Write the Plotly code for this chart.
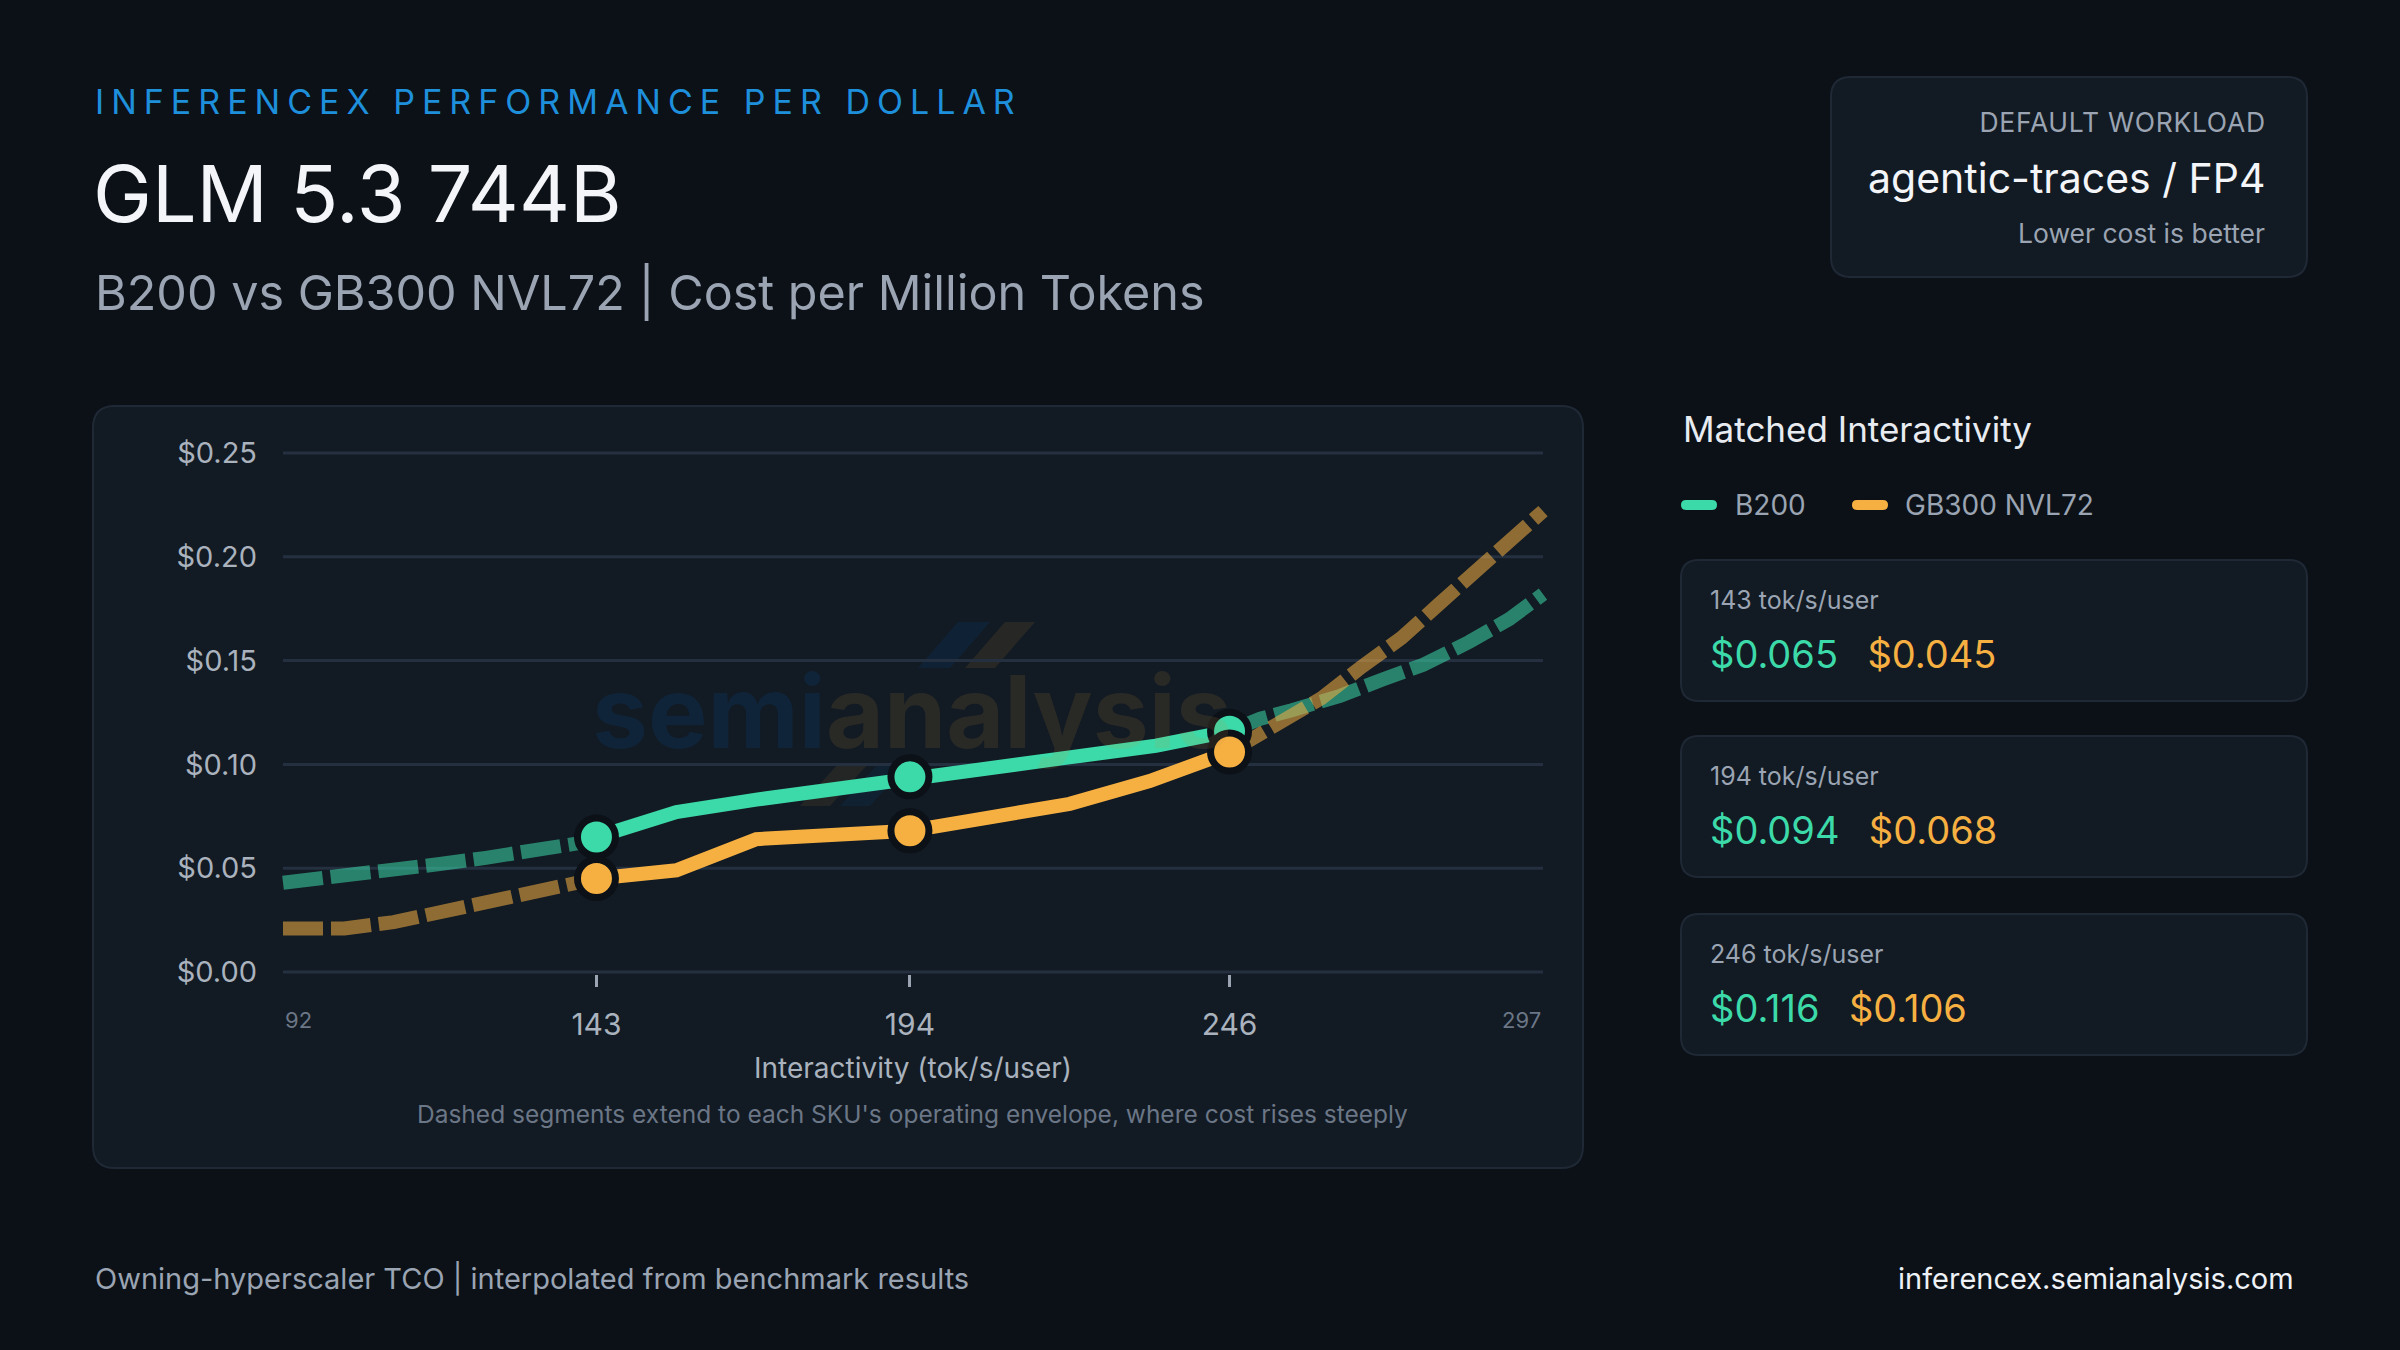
import plotly.graph_objects as go

# ---------------- data ----------------
matched_x = [143, 194, 246]
b200_matched = [0.065, 0.094, 0.116]
gb300_matched = [0.045, 0.068, 0.106]

b200_low_x = [92, 102, 110, 117.5, 125, 133, 140, 143]
b200_low_y = [0.043, 0.046, 0.049, 0.052, 0.055, 0.058, 0.062, 0.065]
b200_mid_x = [143, 156, 169, 182, 194, 206, 219, 234, 246]
b200_mid_y = [0.065, 0.077, 0.083, 0.0885, 0.094, 0.099, 0.103, 0.109, 0.116]
b200_high_x = [246, 251, 256, 264, 271, 277.5, 285, 291.5, 297]
b200_high_y = [0.116, 0.122, 0.126, 0.133, 0.141, 0.148, 0.159, 0.170, 0.182]

gb300_low_x = [92, 102, 110, 117.5, 125, 133, 140, 143]
gb300_low_y = [0.021, 0.021, 0.024, 0.029, 0.034, 0.039, 0.043, 0.045]
gb300_mid_x = [143, 156, 169, 182, 194, 208, 220, 233, 246]
gb300_mid_y = [0.045, 0.049, 0.064, 0.066, 0.068, 0.075, 0.081, 0.092, 0.106]
gb300_high_x = [246, 252.5, 261, 267.5, 274, 280, 286, 291.5, 297]
gb300_high_y = [0.106, 0.117, 0.132, 0.147, 0.161, 0.177, 0.193, 0.209, 0.222]

y_ticks = [0, 0.05, 0.10, 0.15, 0.20, 0.25]
y_tick_labels = ["$0.00", "$0.05", "$0.10", "$0.15", "$0.20", "$0.25"]
x_ends = [92, 297]
series_names = ["B200", "GB300 NVL72"]

# ---------------- style ----------------
FONT = "Inter"
BG = "#0c1118"
CARD = "#121a23"
CARD_LINE = "#1f2935"
GRID = "#243040"
GREEN = "#3cd9a9"
ORANGE = "#f6b042"
MUTED = "#9aa4b2"
DIM = "#6b7686"
WHITE = "#f3f5f8"

W, H = 2400, 1350
PL, PR, PT, PB = 258, 1568, 451, 974
X0PX, X1PX = 283, 1543          # pixel positions of x=92 and x=297
Y0PX, Y1PX = 972, 453           # pixel positions of y=0 and y=0.25
xs = (x_ends[1] - x_ends[0]) / (X1PX - X0PX)
ys = 0.25 / (Y0PX - Y1PX)
x_range = [x_ends[0] - (X0PX - PL) * xs, x_ends[1] + (PR - X1PX) * xs]
y_range = [-(PB - Y0PX) * ys, 0.25 + (Y1PX - PT) * ys]


def fx(px):
    return (px - PL) / (PR - PL)


def fy(py):
    return (PB - py) / (PB - PT)


def rrect(x0, y0, x1, y1, r):
    X0, X1, Y0, Y1 = fx(x0), fx(x1), fy(y0), fy(y1)
    rx, ry = r / (PR - PL), r / (PB - PT)
    return (f"M {X0+rx},{Y0} L {X1-rx},{Y0} Q {X1},{Y0} {X1},{Y0-ry} "
            f"L {X1},{Y1+ry} Q {X1},{Y1} {X1-rx},{Y1} L {X0+rx},{Y1} "
            f"Q {X0},{Y1} {X0},{Y1+ry} L {X0},{Y0-ry} Q {X0},{Y0} {X0+rx},{Y0} Z")


def poly(pts):
    return "M " + " L ".join(f"{fx(a)},{fy(b)}" for a, b in pts) + " Z"


shapes = []
annotations = []


def card(x0, y0, x1, y1, r, fill=CARD, line=CARD_LINE):
    shapes.append(dict(type="path", path=rrect(x0, y0, x1, y1, r), xref="paper", yref="paper",
                       fillcolor=fill, line=dict(color=line, width=2), layer="below"))


def text(x, y, s, size, color, xanchor="left", weight=400):
    annotations.append(dict(x=fx(x), y=fy(y), xref="paper", yref="paper", text=s,
                            showarrow=False, xanchor=xanchor, yanchor="middle",
                            font=dict(family=FONT, size=size, color=color, weight=weight)))


# cards
card(93, 406, 1583, 1168, 22)
card(1831, 77, 2307, 277, 20)
card_y = [(560, 701), (736, 877), (914, 1055)]
for (a, b) in card_y:
    card(1681, a, 2307, b, 18)

# watermark slashes (decorative)
for pts, col in [
    ([(918, 668), (950, 668), (990, 622), (958, 622)], "rgba(0,100,190,0.12)"),
    ([(965, 668), (995, 668), (1035, 622), (1005, 622)], "rgba(200,150,60,0.12)"),
    ([(800, 806), (830, 806), (868, 764), (838, 764)], "rgba(200,150,60,0.10)"),
    ([(840, 806), (870, 806), (908, 764), (878, 764)], "rgba(0,100,190,0.10)"),
]:
    shapes.append(dict(type="path", path=poly(pts), xref="paper", yref="paper",
                       fillcolor=col, line=dict(width=0), layer="below"))

# gridlines from tick values
for v in y_ticks:
    shapes.append(dict(type="line", xref="x", yref="y", x0=x_ends[0], x1=x_ends[1], y0=v, y1=v,
                       line=dict(color=GRID, width=3), layer="below"))

# watermark text
annotations.append(dict(x=fx(912), y=fy(711), xref="paper", yref="paper", showarrow=False,
                        xanchor="center", yanchor="middle",
                        text="<span style='color:rgba(0,100,190,0.14)'>semi</span>"
                             "<span style='color:rgba(200,150,60,0.13)'>analysis</span>",
                        font=dict(family=FONT, size=100, weight=700)))

fig = go.Figure()

dash = "40px,8px"
fig.add_trace(go.Scatter(x=b200_low_x, y=b200_low_y, mode="lines", opacity=0.55,
                         line=dict(color=GREEN, width=14, dash=dash), hoverinfo="skip"))
fig.add_trace(go.Scatter(x=gb300_low_x, y=gb300_low_y, mode="lines", opacity=0.55,
                         line=dict(color=ORANGE, width=14, dash=dash), hoverinfo="skip"))
fig.add_trace(go.Scatter(x=b200_high_x, y=b200_high_y, mode="lines", opacity=0.55,
                         line=dict(color=GREEN, width=14, dash=dash), hoverinfo="skip"))
fig.add_trace(go.Scatter(x=gb300_high_x, y=gb300_high_y, mode="lines", opacity=0.55,
                         line=dict(color=ORANGE, width=14, dash=dash), hoverinfo="skip"))
fig.add_trace(go.Scatter(x=b200_mid_x, y=b200_mid_y, mode="lines", name=series_names[0],
                         line=dict(color=GREEN, width=14)))
fig.add_trace(go.Scatter(x=gb300_mid_x, y=gb300_mid_y, mode="lines", name=series_names[1],
                         line=dict(color=ORANGE, width=14)))
fig.add_trace(go.Scatter(x=matched_x, y=b200_matched, mode="markers",
                         marker=dict(color=GREEN, size=38, line=dict(color=BG, width=7))))
fig.add_trace(go.Scatter(x=matched_x, y=gb300_matched, mode="markers",
                         marker=dict(color=ORANGE, size=38, line=dict(color=BG, width=7))))

# header texts
text(93, 101, "INFERENCEX PERFORMANCE PER DOLLAR", 34, "#1e8fdb")
text(91, 193, "GLM 5.3 744B", 79, WHITE, weight=400)
text(93, 292, "B200 vs GB300 NVL72 | Cost per Million Tokens", 48.5, MUTED)

text(2267, 122, "DEFAULT WORKLOAD", 26.5, MUTED, xanchor="right")
text(2267, 178, "agentic-traces / FP4", 41, WHITE, xanchor="right")
text(2267, 233, "Lower cost is better", 26.5, MUTED, xanchor="right")

# right panel
text(1681, 429, "Matched Interactivity", 35, "#e8ecf1")
for (sx, lx, col, name) in [(1681, 1733, GREEN, series_names[0]), (1852, 1903, ORANGE, series_names[1])]:
    shapes.append(dict(type="path", path=rrect(sx, 500, sx + 36, 510, 5), xref="paper", yref="paper",
                       fillcolor=col, line=dict(width=0)))
    text(lx, 505, name, 28, MUTED)

for i, xv in enumerate(matched_x):
    a, b = card_y[i]
    text(1708, a + 40, f"{xv} tok/s/user", 25, MUTED)
    text(1708, a + 94,
         f"<span style='color:{GREEN}'>${b200_matched[i]:.3f}</span>\u2002\u2009\u200a"
         f"<span style='color:{ORANGE}'>${gb300_matched[i]:.3f}</span>", 38, GREEN)

# axis end labels
for v in x_ends:
    annotations.append(dict(x=v, xref="x", y=fy(1020), yref="paper", text=str(v), showarrow=False,
                            xanchor="left" if v == x_ends[0] else "right", yanchor="middle",
                            font=dict(family=FONT, size=22, color=DIM)))

text(912, 1114, "Dashed segments extend to each SKU's operating envelope, where cost rises steeply",
     24.5, DIM, xanchor="center")

# footer
text(93, 1278, "Owning-hyperscaler TCO | interpolated from benchmark results", 29, MUTED)
text(2296, 1278, "inferencex.semianalysis.com", 29, "#eef2f6", xanchor="right")

fig.update_layout(
    width=W, height=H,
    margin=dict(l=PL, r=W - PR, t=PT, b=H - PB, pad=0),
    paper_bgcolor=BG, plot_bgcolor="rgba(0,0,0,0)",
    showlegend=False,
    font=dict(family=FONT, color=MUTED),
    shapes=shapes, annotations=annotations,
    xaxis=dict(range=x_range, tickvals=matched_x, ticktext=[str(v) for v in matched_x],
               ticks="outside", ticklen=12, tickwidth=3, tickcolor=MUTED,
               tickfont=dict(family=FONT, size=30, color="#a9b2bd"),
               showgrid=False, zeroline=False, showline=False, ticklabelstandoff=12,
               title=dict(text="Interactivity (tok/s/user)", standoff=17,
                          font=dict(family=FONT, size=28, color="#a9b2bd")),
               fixedrange=True),
    yaxis=dict(range=y_range, tickvals=y_ticks, ticktext=y_tick_labels, ticks="",
               tickfont=dict(family=FONT, size=29, color="#a9b2bd"),
               showgrid=False, zeroline=False, showline=False, fixedrange=True),
)

# letter-spacing for the tracked caps labels, keeping their anchored edge in place
post = (
    "document.body.style.margin='0';"
    "document.body.style.background='" + BG + "';"
    "var gd=document.getElementById('{plot_id}');"
    "function sp(t,px,keepRight){"
    "if(t.getAttribute('data-ls'))return;"
    "var b0=t.getBBox();t.style.letterSpacing=px+'px';var b1=t.getBBox();"
    "var d=keepRight?((b0.x+b0.width)-(b1.x+b1.width-px)):(b0.x-b1.x);"
    "var x=parseFloat(t.getAttribute('x')||'0');t.setAttribute('x',x+d);"
    "t.querySelectorAll('tspan[x]').forEach(function(s){s.setAttribute('x',parseFloat(s.getAttribute('x'))+d);});"
    "t.setAttribute('data-ls','1');}"
    "function ls(){document.querySelectorAll('.annotation-text').forEach(function(t){"
    "var c=t.textContent;"
    "if(c.indexOf('INFERENCEX')===0){sp(t,7,false);}"
    "else if(c.indexOf('DEFAULT WORKLOAD')===0){sp(t,0.7,true);}"
    "});}"
    "ls();if(gd&&gd.on){gd.on('plotly_afterplot',ls);}"
)

fig.write_html("out.html", config={"displayModeBar": False}, post_script=post)
